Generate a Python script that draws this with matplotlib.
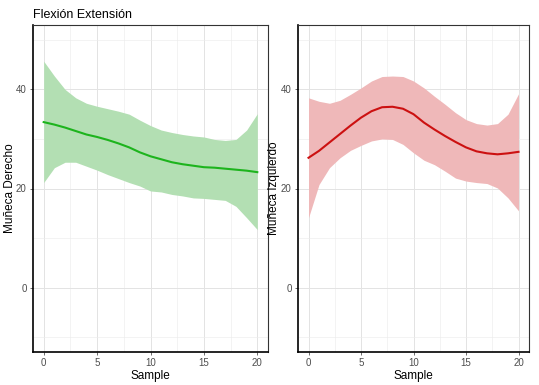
import matplotlib.pyplot as plt
from matplotlib.ticker import MultipleLocator

plt.rcParams['font.family'] = ['Liberation Sans', 'DejaVu Sans']

# datos (suavizado loess con banda de confianza)
sample = list(range(21))

derecho = [33.4, 32.9, 32.3, 31.6, 30.9, 30.4, 29.8, 29.1, 28.3, 27.3, 26.5,
           25.9, 25.3, 24.9, 24.6, 24.3, 24.2, 24.0, 23.8, 23.6, 23.3]
derecho_sup = [45.7, 42.7, 40.0, 38.3, 37.2, 36.6, 36.1, 35.6, 35.0, 33.8, 32.7,
               31.8, 31.3, 30.9, 30.6, 30.4, 29.9, 29.7, 29.9, 31.8, 35.1]
derecho_inf = [21.2, 24.2, 25.3, 25.3, 24.5, 23.7, 22.8, 22.0, 21.2, 20.5, 19.5,
               19.3, 18.8, 18.5, 18.1, 18.0, 17.8, 17.6, 16.4, 14.1, 11.7]

izquierdo = [26.2, 27.6, 29.3, 31.0, 32.7, 34.3, 35.6, 36.4, 36.5, 36.1, 35.0,
             33.3, 31.9, 30.6, 29.4, 28.3, 27.5, 27.1, 26.9, 27.1, 27.4]
izquierdo_sup = [38.3, 37.6, 37.2, 37.8, 39.0, 40.3, 41.7, 42.6, 42.7, 42.6, 41.7,
                 40.3, 38.6, 37.0, 35.3, 33.9, 33.1, 32.8, 33.1, 35.0, 39.1]
izquierdo_inf = [14.1, 20.8, 24.2, 26.2, 27.7, 28.7, 29.6, 30.0, 29.9, 28.9, 27.2,
                 25.7, 24.8, 23.5, 22.1, 21.5, 21.2, 21.0, 20.1, 18.1, 15.5]

fig = plt.figure(figsize=(5.39, 3.85), dpi=100)
ax1 = fig.add_axes([33 / 539, 33 / 385, 235 / 539, 327 / 385])
ax2 = fig.add_axes([298 / 539, 33 / 385, 231 / 539, 327 / 385])

paneles = [
    (ax1, derecho, derecho_inf, derecho_sup, '#1db41d', '#b3dfb3', 'Muñeca Derecho', -0.074),
    (ax2, izquierdo, izquierdo_inf, izquierdo_sup, '#cc1111', '#efb8b9', 'Muñeca Izquierdo', -0.076),
]

for ax, y, lo, hi, col, fill, ylab, xlab_pos in paneles:
    ax.fill_between(sample, lo, hi, color=fill, lw=0, zorder=1)
    ax.plot(sample, y, color=col, lw=1.5, zorder=2)
    ax.set_xlim(-1, 21)
    ax.set_ylim(-13, 53)
    ax.xaxis.set_major_locator(MultipleLocator(5))
    ax.xaxis.set_minor_locator(MultipleLocator(2.5))
    ax.yaxis.set_major_locator(MultipleLocator(20))
    ax.yaxis.set_minor_locator(MultipleLocator(10))
    ax.grid(which='major', color='#e3e3e3', lw=0.7, zorder=0)
    ax.grid(which='minor', color='#ececec', lw=0.45, zorder=0)
    ax.set_axisbelow(True)
    ax.tick_params(which='major', length=2.5, width=0.5, color='#333333',
                   labelsize=7, labelcolor='#4d4d4d', pad=2)
    ax.tick_params(which='minor', length=0)
    for s in ['top', 'right']:
        ax.spines[s].set_color('#333333')
        ax.spines[s].set_linewidth(0.8)
    for s in ['left', 'bottom']:
        ax.spines[s].set_color('black')
        ax.spines[s].set_linewidth(1.2)
    ax.set_xlabel('Sample', fontsize=8.5, labelpad=1)
    ax.set_ylabel(ylab, fontsize=8.5)
    ax.yaxis.set_label_coords(xlab_pos, 0.5)

ax1.set_title('Flexión Extensión', fontsize=9, loc='left', pad=5)

fig.savefig('out.png', dpi=100)
